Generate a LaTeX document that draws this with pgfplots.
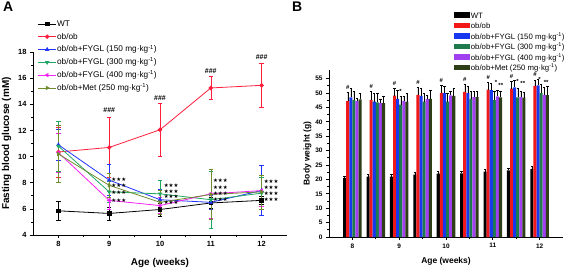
\documentclass[border=0pt]{standalone}
\usepackage{fontspec}
\setmainfont{Liberation Sans}
\newfontfamily\dejavu{DejaVu Sans}
\usepackage{pgfplots}
\usepackage{pgfplotstable}
\pgfplotsset{compat=1.18}

\definecolor{cred}{HTML}{FF1E3C}
\definecolor{cblue}{HTML}{2236FF}
\definecolor{cgreen}{HTML}{1FA862}
\definecolor{cmag}{HTML}{F522F5}
\definecolor{colive}{HTML}{6E8B2E}
\definecolor{bred}{HTML}{F01818}
\definecolor{bblue}{HTML}{1838F0}
\definecolor{bgreen}{HTML}{1E7A4C}
\definecolor{bpurple}{HTML}{A040F0}
\definecolor{bolive}{HTML}{2E3E16}

% Panel A: fasting blood glucose
\pgfplotstableread{
x  wt   wte  ob    obe  fa    fae  fb    fbe  fc    fce  met  mete
8  5.85 0.75 10.35 1.9  10.9  1.2  10.8  1.9  10.3  1.5  10.2 2.2
9  5.65 0.5  10.7  2.3  8.2   1.2  7.3   0.8  6.65  0.7  7.8  0.9
10 5.95 0.5  12.05 2.0  6.7   0.8  7.15  1.0  6.25  0.6  6.5  0.9
11 6.45 0.4  15.25 0.9  6.5   0.5  6.7   2.2  7.15  1.9  7.1  1.9
12 6.65 0.3  15.45 1.7  7.4   1.9  7.2   1.2  7.4   1.2  7.3  1.3
}\dataA

% Panel B: body weight
\pgfplotstableread{
x    wt   wte  ob   obe  fa   fae  fb   fbe  fc   fce  met  mete
8    20.5 0.7  47.2 3.0  48.5 3.0  47.5 3.0  47.2 1.0  47.8 2.0
8.5  21.0 0.7  47.6 3.0  47.0 2.8  46.8 3.0  46.5 1.5  46.5 2.5
9    21.0 0.8  49.1 2.5  48.0 2.8  46.0 3.0  47.3 1.5  46.9 3.0
9.5  21.7 0.8  49.4 2.5  49.0 2.8  47.0 3.0  47.9 1.5  48.0 3.0
10   22.0 0.8  50.1 2.5  50.0 2.5  47.0 3.0  49.2 1.5  49.0 2.5
10.5 22.1 0.8  50.4 2.5  50.0 2.5  48.0 2.5  48.6 2.0  48.6 2.0
11   22.7 0.8  51.2 2.5  51.0 2.5  47.5 3.0  48.8 2.0  48.5 2.0
11.5 23.1 0.8  51.5 2.5  52.0 2.5  48.5 3.0  48.6 2.0  48.4 2.0
12   23.6 0.8  52.5 2.0  52.7 2.0  50.0 3.0  49.4 2.5  49.3 3.0
}\dataB

\tikzset{stars/.style={anchor=west, inner sep=0pt, font=\dejavu\fontsize{5.5}{5.5}\selectfont},
  hash/.style={inner sep=0pt, font=\fontsize{7}{7}\selectfont\bfseries},
  bsig/.style={inner sep=0pt, font=\fontsize{6}{6}\selectfont\bfseries}}

\begin{document}
\begin{tikzpicture}[x=1bp,y=1bp]
\path[use as bounding box] (0,0) rectangle (566,270);

\node[anchor=north west, font=\fontsize{14}{14}\selectfont\bfseries, inner sep=0pt] at (3,268) {A};
\node[anchor=north west, font=\fontsize{14}{14}\selectfont\bfseries, inner sep=0pt] at (292,268) {B};

\begin{axis}[
  at={(33bp,35bp)}, anchor=south west, width=254bp, height=183bp, scale only axis,
  xmin=7.5, xmax=12.5, ymin=4, ymax=18,
  axis lines=left, axis line style={-, line width=0.8pt},
  xtick={8,9,10,11,12}, ytick={4,6,...,18},
  minor x tick num=1, minor y tick num=1,
  tick align=outside, major tick length=3bp, minor tick length=2bp,
  tick style={line width=0.7pt, black},
  /pgf/number format/assume math mode=true,
  ticklabel style={font=\fontsize{7.5}{8}\selectfont\bfseries},
  xlabel={Age (weeks)}, ylabel={Fasting blood glucose (mM)},
  label style={font=\fontsize{10}{11}\selectfont\bfseries},
  xlabel style={yshift=-5bp},
  legend cell align=left,
  legend style={draw=none, fill=none, at={(0.018,1.18)}, anchor=north west,
    font=\fontsize{8.3}{9}\selectfont, row sep=3.5bp, inner sep=0pt,
    nodes={text height=6.5bp, text depth=1.8bp, inner sep=0.5bp}},
  legend image code/.code={\draw[#1] (0bp,0bp) -- (18bp,0bp); \draw[#1, mark repeat=2, mark phase=2] plot coordinates {(0bp,0bp) (9bp,0bp) (18bp,0bp)};},
  every axis plot/.append style={line width=0.8pt, mark size=1.8bp,
    error bars/y dir=both, error bars/y explicit, error bars/error bar style={line width=0.6pt},
    error bars/error mark options={mark size=2.2bp, line width=0.6pt, rotate=90}},
]
\addplot[black, mark=square*] table[x=x, y=wt, y error=wte]{\dataA};
\addlegendentry{WT}
\addplot[cred, mark=*] table[x=x, y=ob, y error=obe]{\dataA};
\addlegendentry{ob/ob}
\addplot[cblue, mark=triangle*] table[x=x, y=fa, y error=fae]{\dataA};
\addlegendentry{ob/ob+FYGL (150 mg·kg\textsuperscript{-1})}
\addplot[cgreen, mark=triangle*, mark options={rotate=180}] table[x=x, y=fb, y error=fbe]{\dataA};
\addlegendentry{ob/ob+FYGL (300 mg·kg\textsuperscript{-1})}
\addplot[cmag, mark=triangle*, mark options={rotate=90}] table[x=x, y=fc, y error=fce]{\dataA};
\addlegendentry{ob/ob+FYGL (400 mg·kg\textsuperscript{-1})}
\addplot[colive, mark=triangle*, mark options={rotate=-90}] table[x=x, y=met, y error=mete]{\dataA};
\addlegendentry{ob/ob+Met (250 mg·kg\textsuperscript{-1})}

\node[stars] at (axis cs:9.04,8.28) {★★★};
\node[stars] at (axis cs:9.04,7.77) {★★★};
\node[stars] at (axis cs:9.04,7.24) {★★★};
\node[stars] at (axis cs:9.04,6.62) {★★★};
\node[stars] at (axis cs:10.07,7.75) {★★★};
\node[stars] at (axis cs:10.07,7.34) {★★★};
\node[stars] at (axis cs:10.07,6.93) {★★★};
\node[stars] at (axis cs:10.07,6.50) {★★★};
\node[stars] at (axis cs:11.04,8.13) {★★★};
\node[stars] at (axis cs:11.04,7.62) {★★★};
\node[stars] at (axis cs:11.04,7.19) {★★★};
\node[stars] at (axis cs:11.04,6.68) {★★★};
\node[stars] at (axis cs:12.04,8.08) {★★★};
\node[stars] at (axis cs:12.04,7.62) {★★★};
\node[stars] at (axis cs:12.04,7.19) {★★★};
\node[stars] at (axis cs:12.04,6.75) {★★★};
\node[hash] at (axis cs:9,13.56) {\#\#\#};
\node[hash] at (axis cs:10,14.48) {\#\#\#};
\node[hash] at (axis cs:11,16.55) {\#\#\#};
\node[hash] at (axis cs:12,17.6) {\#\#\#};
\end{axis}

\begin{axis}[
  at={(329bp,33bp)}, anchor=south west, width=234bp, height=167bp, scale only axis,
  xmin=7.5, xmax=12.5, ymin=0, ymax=58,
  axis lines=left, axis line style={-, line width=0.8pt},
  ybar=0pt, bar width=0.066,
  xtick={8,9,10,11,12}, ytick={0,5,...,55},
  minor x tick num=1, minor y tick num=1,
  tick align=outside, major tick length=3bp, minor tick length=2bp,
  tick style={line width=0.7pt, black},
  /pgf/number format/assume math mode=true,
  ticklabel style={font=\fontsize{6.5}{7}\selectfont\bfseries},
  xlabel={Age (weeks)}, ylabel={Body weight (g)},
  label style={font=\fontsize{8.5}{9}\selectfont\bfseries},
  xlabel style={yshift=-2bp}, ylabel style={yshift=-3bp},
  legend cell align=left,
  legend style={draw=none, fill=none, at={(0.535,1.35)}, anchor=north west,
    font=\fontsize{7.8}{8}\selectfont, row sep=2.0bp, inner sep=0pt,
    nodes={text height=6bp, text depth=1.5bp, inner sep=0.5bp}},
  legend image code/.code={\fill[#1] (0bp,-1.5bp) rectangle (16bp,4bp);},
  every axis plot/.append style={draw=none,
    error bars/y dir=plus, error bars/y explicit, error bars/error bar style={black, line width=0.5pt},
    error bars/error mark options={black, mark size=1.2bp, line width=0.5pt, rotate=90}},
]
\addplot[fill=black] table[x=x, y=wt, y error=wte]{\dataB};
\addlegendentry{WT}
\addplot[fill=bred] table[x=x, y=ob, y error=obe]{\dataB};
\addlegendentry{ob/ob}
\addplot[fill=bblue] table[x=x, y=fa, y error=fae]{\dataB};
\addlegendentry{ob/ob+FYGL (150 mg·kg\textsuperscript{-1})}
\addplot[fill=bgreen] table[x=x, y=fb, y error=fbe]{\dataB};
\addlegendentry{ob/ob+FYGL (300 mg·kg\textsuperscript{-1})}
\addplot[fill=bpurple] table[x=x, y=fc, y error=fce]{\dataB};
\addlegendentry{ob/ob+FYGL (400 mg·kg\textsuperscript{-1})}
\addplot[fill=bolive] table[x=x, y=met, y error=mete]{\dataB};
\addlegendentry{ob/ob+Met (250 mg·kg\textsuperscript{-1})}

\node[bsig] at (axis cs:7.901,52.0) {\#};
\node[bsig] at (axis cs:8.401,52.4) {\#};
\node[bsig] at (axis cs:8.901,53.4) {\#};
\node[bsig] at (axis cs:9.401,53.7) {\#};
\node[bsig] at (axis cs:9.901,54.4) {\#};
\node[bsig] at (axis cs:10.401,54.7) {\#};
\node[bsig] at (axis cs:10.901,55.4) {\#};
\node[bsig] at (axis cs:11.401,55.8) {\#};
\node[bsig] at (axis cs:11.901,56.3) {\#};
\node[bsig] at (axis cs:9.03,50.6) {*};
\node[bsig] at (axis cs:11.07,53.6) {*};
\node[bsig] at (axis cs:11.17,52.8) {**};
\node[bsig] at (axis cs:11.53,54.0) {*};
\node[bsig] at (axis cs:11.64,53.2) {**};
\node[bsig] at (axis cs:12.0,54.6) {*};
\node[bsig] at (axis cs:12.14,53.8) {**};
\end{axis}
\end{tikzpicture}
\end{document}
